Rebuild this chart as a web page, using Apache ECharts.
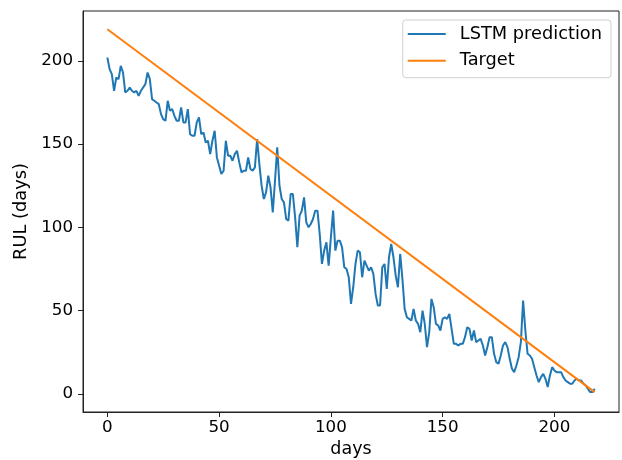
<!DOCTYPE html>
<html>
<head>
<meta charset="utf-8">
<script src="https://cdn.jsdelivr.net/npm/echarts@6/dist/echarts.min.js"></script>
<style>
html,body{margin:0;padding:0;background:#fff;}
#chart{width:622px;height:460px;}
</style>
</head>
<body>
<div id="chart"></div>
<script>
// LSTM prediction, one value per day starting at day 0
const lstmValues = [
  202,195,192,182,190,189,197,193,181,182,
  184,182,181,182,179,182,184,186,193,189,
  177,176,175,174,168,165,164,176,170,171,
  167,164,164,172,163,163,171,156,155,155,
  163,166,156,157,151,152,144,152,158,142,
  137,132,134,152,143,143,140,144,146,139,
  133,134,134,142,135,134,136,153,138,125,
  117,121,131,124,109,128,148,125,117,115,
  105,104,120,120,106,88,107,110,118,103,
  100,102,105,110,110,96,78,86,91,77,
  94,110,86,92,92,88,76,75,70,54,
  64,78,86,85,70,80,77,74,76,72,
  60,53,53,76,78,63,82,90,82,71,
  64,84,69,51,46,45,44,51,44,42,
  37,50,42,28,37,57,52,42,41,38,
  45,46,45,48,39,30,30,29,30,30,
  34,40,39,32,38,31,32,33,29,23,
  28,34,34,24,19,18,23,29,31,28,
  21,15,13,17,22,31,56,38,24,23,
  21,16,11,7,10,12,9,4,11,16,
  14,13,13,13,10,8,7,6,6,8,
  9,8,8,6,5,3,1,1,3
];
// Target line end points
const targetDays = [0, 218];
const targetValues = [219, 1];
const xTicks = [0, 50, 100, 150, 200];
const yTicks = [0, 50, 100, 150, 200];
const seriesNames = ['LSTM prediction', 'Target'];
const xName = 'days';
const yName = 'RUL (days)';

const lstmData = lstmValues.map((v, i) => [i, v]);
const targetData = targetDays.map((d, i) => [d, targetValues[i]]);

const FONT = 'DejaVu Sans';
const chart = echarts.init(document.getElementById('chart'), null, {renderer: 'canvas'});
chart.setOption({
  animation: false,
  backgroundColor: '#fff',
  grid: {left: 83, right: 3, top: 11, bottom: 48, containLabel: false, outerBoundsMode: 'none',
         show: true, borderColor: '#222', borderWidth: 1, backgroundColor: 'transparent'},
  xAxis: {
    type: 'value', min: -10.9, max: 228.9,
    name: xName, nameLocation: 'middle', nameGap: 27,
    nameTextStyle: {fontFamily: FONT, fontSize: 17.5, color: '#000'},
    axisLine: {show: true, onZero: false, lineStyle: {color: '#222', width: 1}},
    axisTick: {show: true, inside: false, length: 5, customValues: xTicks, lineStyle: {color: '#222'}},
    axisLabel: {customValues: xTicks, margin: 7, fontFamily: FONT, fontSize: 16.7, color: '#000'},
    splitLine: {show: false}
  },
  yAxis: {
    type: 'value', min: -10.95, max: 229.95,
    name: yName, nameLocation: 'middle', nameGap: 45, nameRotate: 90,
    nameTextStyle: {fontFamily: FONT, fontSize: 17.8, color: '#000'},
    axisLine: {show: true, onZero: false, lineStyle: {color: '#222', width: 1}},
    axisTick: {show: true, inside: false, length: 5, customValues: yTicks, lineStyle: {color: '#222'}},
    axisLabel: {customValues: yTicks, margin: 10, fontFamily: FONT, fontSize: 16.7, color: '#000'},
    splitLine: {show: false}
  },
  legend: {
    right: 11, top: 20, orient: 'vertical',
    data: seriesNames,
    icon: 'rect', itemWidth: 38, itemHeight: 2, itemGap: 8.7,
    padding: [5, 9, 8, 5],
    borderColor: '#d0d0d0', borderWidth: 1, borderRadius: 3,
    backgroundColor: 'rgba(255,255,255,0.8)',
    textStyle: {fontFamily: FONT, fontSize: 17.8, color: '#000', lineHeight: 18, padding: [0, 0, 0, 9]}
  },
  series: [
    {name: seriesNames[0], type: 'line', data: lstmData, showSymbol: false, symbol: 'none',
     lineStyle: {color: '#1f77b4', width: 2}, itemStyle: {color: '#1f77b4'}, z: 2},
    {name: seriesNames[1], type: 'line', data: targetData, showSymbol: false, symbol: 'none',
     lineStyle: {color: '#ff7f0e', width: 2}, itemStyle: {color: '#ff7f0e'}, z: 3}
  ]
});
</script>
</body>
</html>
